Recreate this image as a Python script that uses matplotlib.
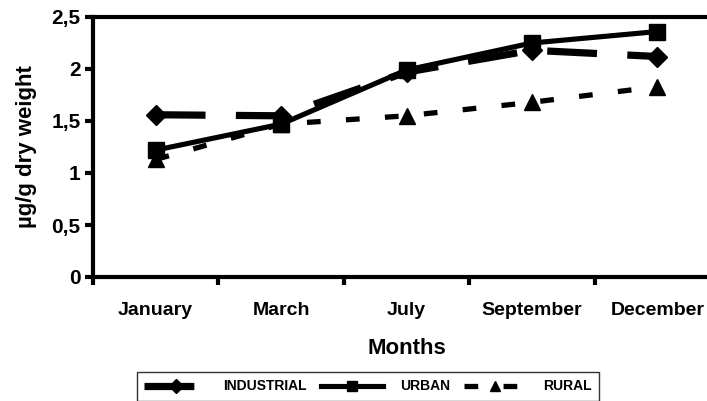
import matplotlib
matplotlib.use("Agg")
import matplotlib.pyplot as plt
from matplotlib.ticker import FixedLocator

months = ["January", "March", "July", "September", "December"]
industrial = [1.56, 1.55, 1.97, 2.18, 2.12]
urban = [1.22, 1.47, 1.99, 2.25, 2.36]
rural = [1.13, 1.47, 1.55, 1.68, 1.83]
yticks = [0, 0.5, 1, 1.5, 2, 2.5]
ytick_labels = ["0", "0,5", "1", "1,5", "2", "2,5"]

plt.rcParams["font.family"] = ["Liberation Sans", "DejaVu Sans"]
plt.rcParams["font.weight"] = "bold"

W, H = 707, 401
fig = plt.figure(figsize=(W / 100, H / 100), dpi=100)
ax = fig.add_axes([93 / W, (H - 277) / H, (720 - 93) / W, 260 / H])

x = list(range(len(months)))
ax.plot(x, industrial, color="black", lw=5.2, dashes=(6.9, 4.2),
        marker="D", markersize=10, label="INDUSTRIAL")
ax.plot(x, urban, color="black", lw=3.7, linestyle="-",
        marker="s", markersize=11, label="URBAN")
ax.plot(x, rural, color="black", lw=3.8, dashes=(2.6, 4.8),
        marker="^", markersize=11, label="RURAL")

ax.set_xlim(-0.5, 4.5)
ax.set_ylim(0, 2.5)
ax.set_yticks(yticks)
ax.set_yticklabels(ytick_labels, fontsize=15, fontweight="bold")
ax.set_xticks(x)
ax.set_xticklabels(months, fontsize=14, fontweight="bold")
ax.tick_params(axis="x", which="major", length=0, pad=18)
ax.xaxis.set_minor_locator(FixedLocator([-0.5, 0.5, 1.5, 2.5, 3.5, 4.5]))
ax.tick_params(axis="x", which="minor", length=6, width=3, direction="out")
ax.tick_params(axis="y", which="major", length=6, width=3, direction="out", pad=3)

for side in ["left", "bottom", "top"]:
    ax.spines[side].set_linewidth(3)
ax.spines["right"].set_visible(False)

ax.set_xlabel("Months", fontsize=16, fontweight="bold", labelpad=14)
ax.set_ylabel("µg/g dry weight", fontsize=16, fontweight="bold", labelpad=10)

leg = fig.legend(loc="center", bbox_to_anchor=(368 / W, 1 - 386.5 / H), ncol=3,
                 frameon=True, fancybox=False, edgecolor="black",
                 prop={"size": 10, "weight": "bold"}, handlelength=4.5,
                 columnspacing=1.0, handletextpad=1.2, borderpad=0.55,
                 markerscale=0.7)
leg.get_frame().set_linewidth(1)

fig.savefig("out.png", dpi=100)
